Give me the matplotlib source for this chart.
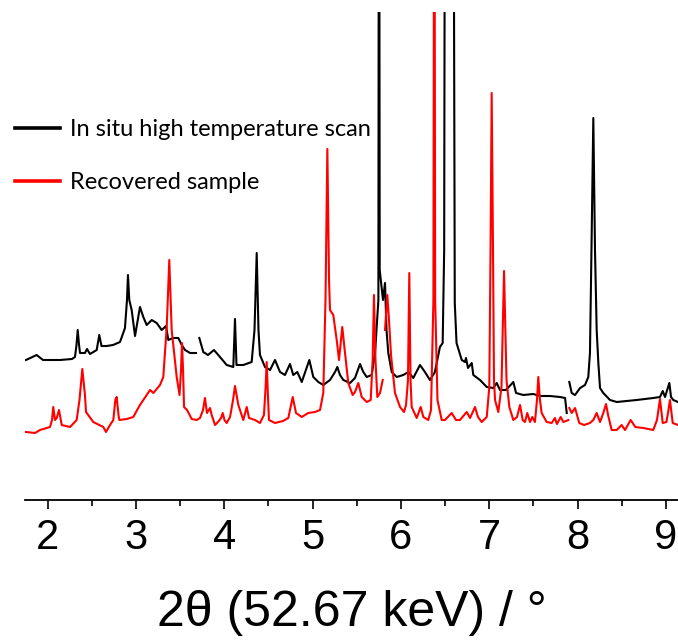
import matplotlib
matplotlib.use("Agg")
import matplotlib.pyplot as plt

# in situ high temperature scan (black), three measured stretches
black_x1 = [1.754, 1.875, 1.947, 2.139, 2.275, 2.309, 2.326, 2.340, 2.355, 2.366,
            2.422, 2.445, 2.479, 2.555, 2.584, 2.609, 2.668, 2.740, 2.819, 2.875,
            2.898, 2.909, 2.924, 2.951, 2.989, 3.045, 3.083, 3.121, 3.178, 3.234,
            3.291, 3.340, 3.366, 3.419, 3.479, 3.518, 3.555, 3.612, 3.679]
black_y1 = [140, 145, 140, 140, 141, 143, 155, 170, 155, 147,
            147, 151, 146, 150, 165, 154, 154, 155, 158, 172,
            200, 225, 200, 190, 164, 193, 183, 175, 180, 177,
            170, 174, 160, 162, 162, 155, 150, 147, 147]

black_x2 = [3.717, 3.762, 3.815, 3.883, 3.951, 4.027, 4.102, 4.121, 4.138, 4.215,
            4.310, 4.342, 4.367, 4.387, 4.404, 4.461, 4.518, 4.574, 4.631, 4.687,
            4.744, 4.781, 4.827, 4.877, 4.963, 5.008, 5.065, 5.121, 5.197, 5.254,
            5.280, 5.310, 5.348, 5.424, 5.480, 5.537, 5.574, 5.613, 5.669, 5.707,
            5.745, 5.752, 5.760, 5.797, 5.820, 5.837, 5.857, 5.896, 5.952, 6.027,
            6.084, 6.140, 6.216, 6.272, 6.329, 6.385, 6.442, 6.473, 6.490, 6.502,
            6.545, 6.590, 6.610, 6.630, 6.689, 6.726, 6.737, 6.760, 6.802, 6.820,
            6.896, 6.972, 7.046, 7.085, 7.122, 7.190, 7.273, 7.304, 7.386, 7.499,
            7.575, 7.689, 7.802, 7.859, 7.878]
black_y2 = [162, 148, 145, 150, 143, 135, 133, 181, 135, 135,
            138, 170, 247, 170, 145, 133, 130, 140, 128, 125,
            136, 125, 128, 118, 140, 123, 118, 115, 120, 128,
            133, 125, 120, 117, 122, 136, 128, 123, 125, 147,
            200, 900, 230, 200, 217, 170, 147, 128, 123, 125,
            128, 122, 135, 128, 120, 128, 153, 157, 250, 900,
            650, 900, 197, 157, 140, 138, 142, 132, 137, 125,
            120, 113, 112, 117, 110, 110, 118, 107, 105, 106,
            104, 104, 103, 102, 87]

black_x3 = [7.907, 7.934, 7.972, 8.029, 8.085, 8.122, 8.141, 8.158, 8.179, 8.198,
            8.217, 8.236, 8.255, 8.292, 8.368, 8.444, 8.670, 8.858, 8.934, 8.965,
            8.991, 9.040, 9.059, 9.085, 9.138]
black_y3 = [118, 107, 105, 112, 115, 123, 147, 250, 382, 250,
            170, 137, 112, 107, 100, 98, 100, 102, 103, 109,
            103, 117, 103, 100, 98]

# recovered sample (red)
red_x1 = [1.754, 1.856, 1.913, 2.026, 2.049, 2.063, 2.083, 2.102, 2.128, 2.159,
          2.253, 2.328, 2.360, 2.392, 2.422, 2.434, 2.516, 2.630, 2.660, 2.706,
          2.743, 2.766, 2.781, 2.802, 2.811, 2.895, 2.969, 3.045, 3.121, 3.159,
          3.197, 3.272, 3.309, 3.348, 3.377, 3.404, 3.461, 3.493, 3.510, 3.521,
          3.533, 3.544, 3.578, 3.631, 3.687, 3.725, 3.759, 3.781, 3.804, 3.838,
          3.857, 3.895, 3.929, 3.963, 3.982, 4.002, 4.027, 4.065, 4.099, 4.121,
          4.159, 4.215, 4.254, 4.280, 4.348, 4.404, 4.449, 4.466, 4.480, 4.494,
          4.506, 4.574, 4.665, 4.725, 4.756, 4.775, 4.812, 4.877, 4.951, 5.027,
          5.084, 5.121, 5.146, 5.167, 5.186, 5.197, 5.234, 5.273, 5.299, 5.336,
          5.367, 5.404, 5.454, 5.480, 5.518, 5.556, 5.613, 5.658, 5.680, 5.695,
          5.712, 5.733, 5.763, 5.794]
red_y1 = [68, 67, 70, 73, 80, 93, 80, 82, 90, 75,
          73, 80, 100, 131, 105, 88, 78, 73, 68, 75,
          80, 100, 103, 85, 80, 81, 83, 95, 105, 110,
          107, 115, 123, 173, 240, 170, 123, 105, 130, 157,
          130, 93, 90, 81, 80, 82, 90, 102, 87, 92,
          85, 75, 78, 82, 87, 80, 77, 83, 100, 114,
          95, 80, 93, 82, 80, 77, 85, 110, 138, 105,
          80, 77, 79, 82, 95, 103, 87, 83, 87, 88,
          90, 107, 200, 351, 220, 190, 185, 160, 140, 173,
          147, 117, 105, 108, 117, 103, 98, 100, 140, 205,
          140, 103, 107, 120]

red_x2 = [5.820, 5.846, 5.865, 5.888, 5.933, 5.990, 6.035, 6.058, 6.080, 6.095,
          6.109, 6.122, 6.179, 6.224, 6.254, 6.310, 6.341, 6.368, 6.378, 6.388,
          6.414, 6.462, 6.499, 6.575, 6.624, 6.669, 6.745, 6.783, 6.839, 6.873,
          6.915, 6.972, 7.001, 7.015, 7.028, 7.043, 7.054, 7.066, 7.103, 7.139,
          7.153, 7.168, 7.183, 7.196, 7.228, 7.273, 7.315, 7.349, 7.379, 7.405,
          7.431, 7.462, 7.488, 7.518, 7.541, 7.556, 7.575, 7.594, 7.651, 7.708,
          7.744, 7.767, 7.810, 7.839, 7.896]
red_y2 = [170, 205, 180, 145, 107, 93, 88, 95, 120, 227,
          120, 93, 82, 93, 83, 80, 90, 200, 800, 200,
          100, 80, 80, 87, 80, 80, 88, 82, 93, 83,
          78, 83, 113, 250, 407, 250, 120, 100, 88, 113,
          170, 229, 170, 120, 93, 80, 83, 95, 80, 78,
          87, 78, 83, 78, 100, 123, 100, 87, 78, 77,
          82, 76, 83, 78, 80]

red_x3 = [7.907, 7.934, 7.972, 8.020, 8.074, 8.141, 8.179, 8.217, 8.255, 8.292,
          8.323, 8.346, 8.387, 8.444, 8.500, 8.538, 8.602, 8.654, 8.745, 8.858,
          8.900, 8.934, 8.965, 9.007, 9.030, 9.047, 9.078, 9.138]
red_y3 = [92, 87, 92, 77, 75, 77, 80, 87, 78, 87,
          96, 85, 70, 70, 75, 70, 80, 73, 72, 70,
          80, 101, 77, 78, 90, 100, 77, 75]

major_ticks = [2, 3, 4, 5, 6, 7, 8, 9]
minor_ticks = [2.5, 3.5, 4.5, 5.5, 6.5, 7.5, 8.5]

fig = plt.figure(figsize=(6.78, 6.41), dpi=100)
ax = fig.add_axes([25 / 678, 141 / 641, 653 / 678, 488 / 641])

lw = 1.5
ax.plot(black_x1, black_y1, color="black", lw=lw, label="In situ high temperature scan")
ax.plot(black_x2, black_y2, color="black", lw=lw)
ax.plot(black_x3, black_y3, color="black", lw=lw)
ax.plot(red_x1, red_y1, color="#ff0000", lw=lw, label="Recovered sample")
ax.plot(red_x2, red_y2, color="#ff0000", lw=lw)
ax.plot(red_x3, red_y3, color="#ff0000", lw=lw)

ax.set_xlim(1.743, 9.138)
ax.set_ylim(0, 488)

for s in ["top", "right", "left"]:
    ax.spines[s].set_visible(False)
ax.spines["bottom"].set_linewidth(1.3)

ax.set_yticks([])
ax.set_xticks(major_ticks)
ax.set_xticks(minor_ticks, minor=True)
ax.tick_params(axis="x", which="major", length=6.5, width=1.2, pad=6.5)
ax.tick_params(axis="x", which="minor", length=4, width=1.2)
for t in ax.get_xticklabels():
    t.set_fontfamily("Liberation Sans")
    t.set_fontsize(30)

ax.set_xlabel("2θ (52.67 keV) / °", fontsize=36, family="Liberation Sans", labelpad=23)

leg = ax.legend(loc="upper left", bbox_to_anchor=(15 / 678, 1 - 119 / 641),
                bbox_transform=fig.transFigure, frameon=False, borderpad=0,
                borderaxespad=0, handlelength=1.9, handletextpad=0.42,
                labelspacing=1.35, prop={"family": "Lato", "size": 17})
for line in leg.get_lines():
    line.set_linewidth(2.6)

fig.savefig("out.png", dpi=100)
